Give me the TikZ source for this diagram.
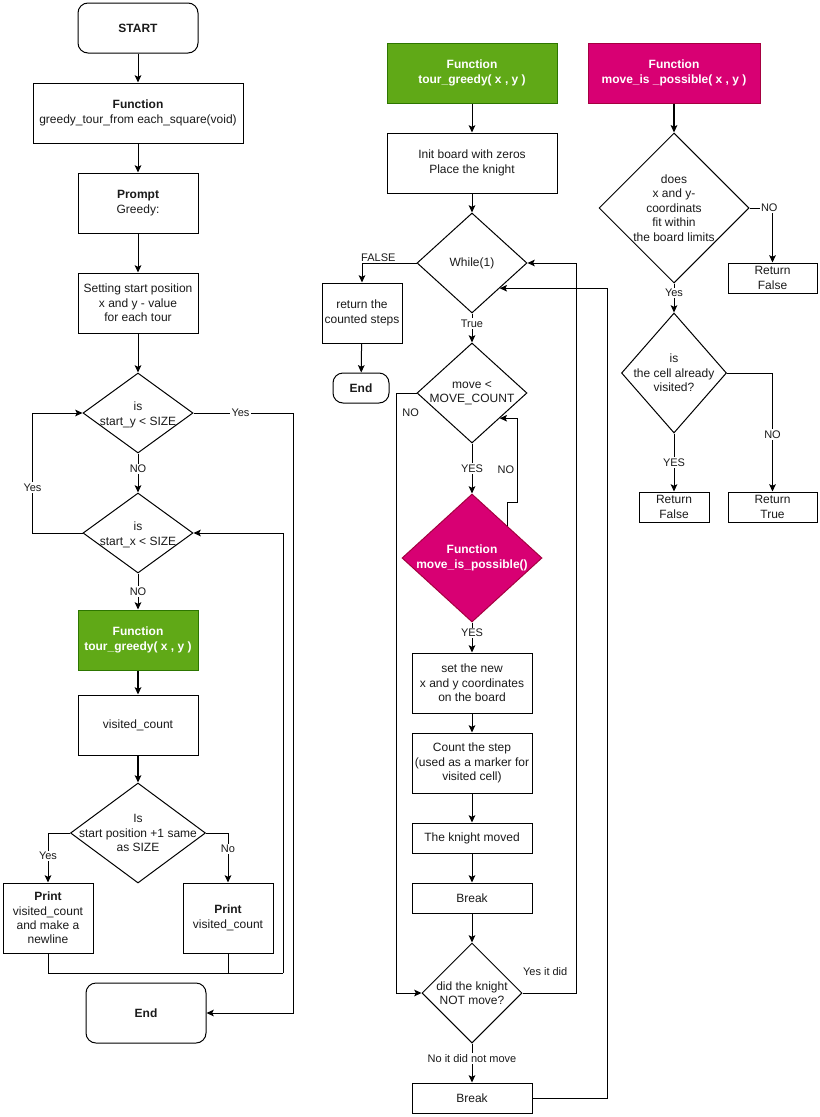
\documentclass[tikz,border=0pt]{standalone}
\usepackage{fontspec}
\setmainfont{Liberation Sans}
\usetikzlibrary{shapes.geometric,arrows.meta}
\newdimen\pxu \pxu=0.75pt
\definecolor{fgreen}{HTML}{60A917}
\definecolor{fgreenline}{HTML}{2D7600}
\definecolor{fpink}{HTML}{D80073}
\definecolor{fpinkline}{HTML}{A50040}
\definecolor{ink}{HTML}{1A1A1A}
\tikzset{
  base/.style={draw=black, line width=1\pxu, font=\fontsize{9}{10.8}\selectfont,
    align=center, inner sep=0pt, text=ink},
  box/.style 2 args={base, rectangle, minimum width=#1\pxu, minimum height=#2\pxu},
  rbox/.style 2 args={box={#1}{#2}, rounded corners=7.5pt},
  gbox/.style 2 args={box={#1}{#2}, fill=fgreen, draw=fgreenline, text=white},
  pbox/.style 2 args={box={#1}{#2}, fill=fpink, draw=fpinkline, text=white},
  dia/.style 2 args={draw=black, line width=1\pxu, diamond, minimum width=#1\pxu,
    minimum height=#2\pxu, inner sep=0pt},
  dtext/.style={font=\fontsize{9}{10.8}\selectfont, align=center, inner sep=0pt, text=ink},
  lbl/.style={fill=white, font=\fontsize{8.25}{9.9}\selectfont, inner sep=1pt, text=ink},
  link/.style={draw=black, line width=1\pxu},
  arr/.style={link, -{Stealth[length=5.5pt, width=5pt, inset=1.2pt]}},
  heavy/.style={line width=1.6\pxu},
}
\begin{document}
\begin{tikzpicture}[x=0.75pt, y=-0.75pt]
\useasboundingbox (0,0) rectangle (820,1117);

% ---------- main routine ----------
\node[rbox={120}{50}] (start) at (138,28) {\textbf{START}};
\node[box={210}{60}] (fn) at (138,113) {\textbf{Function}\\greedy\_tour\_from each\_square(void)};
\node[box={120}{60}] (prompt) at (138,203) {\textbf{Prompt}\\Greedy:};
\node[box={120}{60}] (setp) at (138,303) {Setting start position\\x and y - value\\for each tour};
\node[dia={110}{80}] (dy) at (138,413) {};
\node[dtext] (dyt) at (138,415) {is\\start\_y < SIZE};
\node[dia={110}{80}] (dx) at (138,533) {};
\node[dtext] (dxt) at (138,535) {is\\start\_x < SIZE};
\node[gbox={120}{60}] (tg) at (138,640) {\textbf{Function}\\\textbf{tour\_greedy( x , y )}};
\node[box={120}{60}] (vc) at (138,725) {visited\_count};
\node[dia={135}{100}] (ip) at (138,833) {};
\node[dtext] (ipt) at (138,833) {Is\\start position +1 same\\as SIZE};
\node[box={90}{70}] (pl) at (48,918) {\textbf{Print}\\visited\_count\\and make a\\newline};
\node[box={90}{70}] (pr) at (228,918) {\textbf{Print}\\visited\_count};
\node[rbox={120}{60}] (endl) at (146,1013) {\textbf{End}};

\draw[arr] (start) -- (fn);
\draw[arr] (fn) -- (prompt);
\draw[arr] (prompt) -- (setp);
\draw[arr] (setp) -- (dy);
\draw[arr] (dy) -- node[lbl,pos=0.4]{NO} (dx);
\draw[arr] (dx) -- node[lbl]{NO} (tg);
\draw[arr, heavy] (tg) -- (vc);
\draw[arr, heavy] (vc) -- (ip);
\draw[arr] (dx.west) -- ++(-50,0) coordinate (ylc)
  -- node[lbl,pos=0.38]{Yes} (ylc |- dy.west) -- (dy.west);
\draw[arr] (dy.east) -- node[lbl,pos=0.47]{Yes} ++(100,0) |- (endl.east);
\draw[arr] (ip.west) -| node[lbl,pos=0.73]{Yes} (pl.north);
\draw[arr] (ip.east) -| node[lbl,pos=0.66]{No} (pr.north);
\coordinate (mrg) at (283,973);
\draw[link] (pl.south) |- (mrg);
\draw[link] (pr.south) -- (pr.south |- mrg);
\draw[arr] (mrg) |- (dx.east);

% ---------- tour_greedy ----------
\node[gbox={170}{60}] (tg2) at (472,73) {\textbf{Function}\\\textbf{tour\_greedy( x , y )}};
\node[box={170}{60}] (init) at (472,163) {Init board with zeros\\Place the knight};
\node[dia={110}{100}] (wh) at (472,263) {};
\node[dtext] (wht) at (472,263) {While(1)};
\node[box={80}{60}] (ret) at (362,313) {return the\\counted steps};
\node[rbox={56}{30}] (endm) at (361,388) {\textbf{End}};
\node[dia={110}{100}] (mvc) at (472,393) {};
\node[dtext] (mvct) at (472,393) {move <\\MOVE\_COUNT};
\node[dia={140}{128}, fill=fpink, draw=fpinkline] (mip) at (472,558) {};
\node[dtext, text=white] (mipt) at (472,558) {\textbf{Function}\\\textbf{move\_is\_possible()}};
\node[box={120}{60}] (setb) at (472,683) {set the new\\x and y coordinates\\on the board};
\node[box={120}{60}] (cnt) at (472,763) {Count the step\\(used as a marker for\\visited cell)};
\node[box={120}{30}] (kn) at (472,838) {The knight moved};
\node[box={120}{30}] (brk1) at (472,898) {Break};
\node[dia={100}{100}] (dk) at (472,993) {};
\node[dtext] (dkt) at (472,993) {did the knight\\NOT move?};
\node[box={120}{30}] (brk2) at (472,1098) {Break};

\draw[arr] (tg2) -- (init);
\draw[arr] (init) -- (wh);
\draw[arr] (wh.west) -- node[lbl,pos=0.7,yshift=3.75pt]{FALSE} (wh.west -| ret.north) -- (ret.north);
\draw[arr] (ret) -- (endm);
\draw[arr] (wh) -- node[lbl,pos=0.35]{True} (mvc);
\draw[arr] (mvc.west) -- ++(-20,0) coordinate (nlc)
  -- node[lbl,anchor=west,pos=0.033,xshift=3pt]{NO} (nlc |- dk.west) -- (dk.west);
\draw[arr] (mvc) -- node[lbl]{YES} (mip);
\draw[arr] (mip.north east) -- ++(0,-23) -- ++(10,0) coordinate (nrc)
  -- node[lbl,anchor=east,pos=0.39,xshift=-1pt]{NO} (nrc |- mvc.south east) -- (mvc.south east);
\draw[arr] (mip) -- node[lbl,pos=0.35]{YES} (setb);
\draw[arr] (setb) -- (cnt);
\draw[arr] (cnt) -- (kn);
\draw[arr] (kn) -- (brk1);
\draw[arr] (brk1) -- (dk);
\draw[arr] (dk.east) -- node[lbl,pos=0.42,yshift=15.75pt]{Yes it did} ++(54,0) |- (wh.east);
\draw[arr] (dk) -- node[lbl,pos=0.38]{No it did not move} (brk2);
\draw[arr] (brk2.east) -- ++(75,0) |- (wh.south east);

% ---------- move_is_possible ----------
\node[pbox={172}{60}] (mipf) at (674,73) {\textbf{Function}\\\textbf{move\_is \_possible( x , y )}};
\node[dia={150}{150}] (does) at (674,208) {};
\node[dtext] (doest) at (674,208) {does\\x and y-\\coordinats\\fit within\\the board limits};
\node[box={89}{30}] (rf1) at (772.5,278) {Return\\False};
\node[dia={105}{120}] (isd) at (674,373) {};
\node[dtext] (isdt) at (674,373) {is\\the cell already\\visited?};
\node[box={70}{30}] (rf2) at (674,507) {Return\\False};
\node[box={89}{30}] (rt) at (772.5,507) {Return\\True};

\draw[arr, heavy] (mipf) -- (does);
\draw[arr] (does.east) -| node[lbl,pos=0.43]{NO} (rf1.north);
\draw[arr] (does) -- node[lbl,pos=0.33]{Yes} (isd);
\draw[arr] (isd) -- node[lbl]{YES} (rf2);
\draw[arr] (isd.east) -| node[lbl,pos=0.76]{NO} (rt.north);
\end{tikzpicture}
\end{document}
